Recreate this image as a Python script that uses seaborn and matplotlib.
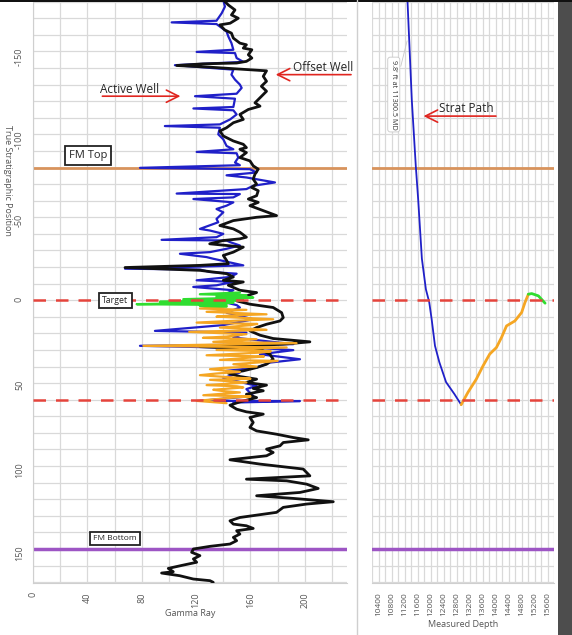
import numpy as np
import pandas as pd
import seaborn as sns
import matplotlib
matplotlib.use('Agg')
import matplotlib.pyplot as plt
from matplotlib.patches import Rectangle
from matplotlib.lines import Line2D

# ---- data: (gamma ray, true stratigraphic position) ----
offset_well = [
    (140, -181), (143.7, -178), (148.6, -175), (146, -172), (151, -170), (145, -167), (137.5, -166),
    (141, -163), (146, -161), (147.4, -158), (152.2, -155), (157, -154), (154.7, -152), (161, -151),
    (158.4, -148), (161, -146), (157, -144), (149.8, -143), (125, -142.5), (105.7, -141.5), (130, -140.5),
    (171.8, -138.3), (169.4, -135), (171.8, -132), (168, -129), (171.8, -126), (167, -122), (163.3, -119),
    (167, -117), (158.4, -115), (152.2, -112), (154.7, -109), (147.4, -107), (142.4, -104), (137.5, -102),
    (140, -99), (147.4, -96), (154.7, -94), (157, -92), (152.2, -91), (157, -89), (152.2, -86),
    (159.6, -84), (162, -81), (165.7, -79), (163.3, -76), (162, -73), (164.5, -70), (160.8, -68),
    (165.7, -66), (164.5, -63), (158.4, -61), (165.7, -59), (159.6, -57), (169.4, -54), (179.2, -51),
    (164.5, -50), (147.4, -48), (137.5, -45), (147.4, -43), (152.2, -41), (157, -38), (152.2, -37),
    (140, -36), (130, -34), (154.7, -32), (147.4, -29), (140, -27), (142.4, -24), (143.7, -22),
    (122.8, -21), (67.7, -19.7), (122.8, -18), (142.4, -16), (147.4, -14), (140, -12), (154.7, -11),
    (143.7, -9), (152.2, -6), (164.5, -4.6), (157, -2.6), (149.8, 0.4), (159.6, 2.4), (176.7, 4.4),
    (182.9, 7.5), (184.1, 10.5), (181.7, 12.5), (171.8, 14.5), (164.5, 16.5), (159.6, 18.5), (167, 21.1),
    (176.7, 23.1), (203.7, 25.1), (184.1, 26.5), (159.6, 27.5), (122.8, 28), (167, 29.5), (174.3, 32.6),
    (176.7, 35.6), (171.8, 38.6), (164.5, 40.6), (154.7, 42.6), (143.7, 44), (152.2, 46), (164.5, 47.6),
    (157, 49.6), (171.8, 51.2), (162, 53.2), (169.4, 54.6), (157, 56.7), (164.5, 58.7), (152.2, 61.3),
    (144.9, 63.3), (149.8, 65.7), (157, 67.3), (169.4, 68.7), (159.6, 70.7), (162, 73.7), (159.6, 76.7),
    (164.5, 78.8), (179.2, 80.8), (191.5, 82.8), (202.5, 84.2), (184.1, 85.8), (181.7, 87.8), (171.8, 89.8),
    (176.7, 91.8), (171.8, 93.8), (144.9, 96.2), (166.9, 98.8), (198.8, 101.8), (203.7, 105.9), (157, 107.9),
    (186.6, 108.9), (201.3, 110.9), (209.8, 113.5), (196.4, 115.9), (164.5, 117.9), (191.5, 119.5),
    (220.9, 121.5), (201.3, 122.9), (184.1, 124.9), (179.2, 127.9), (164.5, 129.6), (152.2, 131),
    (144.9, 133), (147.4, 135), (157, 136), (162, 137.6), (149.8, 139), (152.2, 141), (147.4, 143),
    (149.8, 145), (144.9, 147), (130.2, 148.4), (118, 150), (116.7, 152), (122.8, 154), (118, 156),
    (120.4, 158), (110.6, 159.7), (99.5, 161.7), (103.2, 163.7), (94.6, 164.5), (107.9, 166.1),
    (117.9, 168.1), (130.2, 169.1), (132.6, 170.1),
]

active_well = [
    (140, -181), (141.2, -177), (138.8, -173), (135, -168.5), (102, -167.5), (135, -166.5), (142.4, -162),
    (143.7, -159), (146, -155), (147.4, -151), (120.4, -149.7), (148.6, -149), (149.8, -146), (154.7, -143.7),
    (104.4, -141.7), (147.4, -139), (146, -136), (148.6, -133), (152.2, -130), (153.5, -128), (149.8, -124.5),
    (119.2, -123), (148.6, -121.5), (147.4, -116.5), (118, -115.6), (147.4, -114.5), (149.8, -112), (145, -109),
    (137.5, -106), (97, -105), (137.5, -104), (136.3, -100), (140, -97), (142.4, -93), (147.4, -91),
    (120.4, -89.4), (149.8, -88.6), (151, -86), (148.6, -83), (152.2, -81.4), (78.7, -79.8), (159.6, -79),
    (164.5, -77), (142.4, -75.3), (157, -74), (178, -71), (162, -69), (157, -67), (105.7, -64.3),
    (152.2, -64), (147.4, -62), (118, -61), (147.4, -59), (142.4, -57), (135, -55), (140, -53),
    (135, -49), (136.3, -47), (122.8, -43), (130.2, -42), (140, -40), (135, -38), (94.6, -36.4),
    (142.4, -36), (145, -35), (152.2, -33), (142.4, -31), (130.2, -29), (108.1, -28), (127.7, -26),
    (132.6, -25), (154.7, -21), (67.7, -19), (122.8, -18.5), (130.2, -17), (149.8, -16), (145, -14),
    (120.4, -12), (147.4, -11), (135, -9), (117.9, -8), (147.4, -6), (142.4, -4), (154.7, -3),
    (147.4, -1), (140, 1), (150, 3), (152.2, 4.4), (142.4, 7.5), (162, 11.5), (140, 15), (89.7, 18.5),
    (157, 19.5), (147.4, 22.5), (191.5, 26.5), (78.7, 27.5), (171.8, 29.1), (191.5, 30.1), (167, 32.6),
    (196.4, 35.6), (174.3, 37.6), (164.5, 40.6), (142.4, 42.6), (152.2, 43.6), (140, 47), (164.5, 51.6),
    (157, 53.6), (162, 57.7), (122.8, 60.7), (196.4, 60.8), (147.4, 61.7),
]

# active well coloured by zone
near_target = [
    (152.2, -4.6), (122.8, -3.6), (157, -3), (135, -2.2), (162, -1.6), (110.6, -0.6), (154.7, 0),
    (93.4, 1), (147.4, 1.4), (76.3, 2.4), (142.4, 2.8), (122.8, 3.4), (142.4, 3.8),
]
in_zone = [
    (142.4, 3.8), (122.8, 5), (157, 5.8), (127.7, 7), (171.8, 8.5), (145, 9.2), (135, 9.9), (176.7, 11.5),
    (150, 12.3), (120.4, 13.5), (165, 14.3), (159.6, 15.1), (137.5, 16.5), (160, 17.2), (171.8, 17.9),
    (114.9, 19.1), (157, 20.5), (142.4, 21.9), (125, 22.7), (164.5, 23.5), (132.6, 25.1), (193.9, 25.9),
    (81.2, 27.5), (186.6, 28.5), (135, 30), (175, 30.8), (167, 31.6), (127.7, 33.2), (170, 33.9),
    (159.6, 34.6), (137.5, 36), (180, 36.6), (171.8, 37.2), (147.4, 38.6), (164.5, 40), (140, 40.8),
    (130.2, 41.6), (152.2, 43.2), (135, 44.2), (122.8, 45.2), (147.4, 46.6), (160, 47.3), (130.2, 48),
    (157, 49.6), (127.7, 51.2), (150, 51.9), (154.7, 52.6), (132.6, 54), (140, 54.8), (152.2, 55.6),
    (125.3, 57.3), (160, 58), (147.4, 58.7), (120.4, 60.7), (142.4, 62.1),
]

# strat path: (measured depth, true stratigraphic position)
strat_blue = [
    (11291, -181), (11424, -121), (11548, -80.7), (11620, -61), (11735, -25), (11858, -6.6),
    (11961, 1.2), (12035, 11.4), (12138, 27.5), (12271, 37.3), (12479, 49.4), (12736, 56.6), (12944, 63),
]
strat_orange = [
    (12944, 63), (13151, 55.6), (13409, 47.6), (13616, 39.6), (13821, 32.5), (14029, 28.5), (14184, 22.5),
    (14339, 15.5), (14596, 12.5), (14804, 7.4), (14906, 1.4), (15011, -3.6),
]
strat_green = [(15011, -3.6), (15114, -4), (15321, -2.6), (15526, 1.8)]

fm_top = -80
fm_bottom = 150
target_top = 0
target_base = 60

BLACK = '#111111'
BLUE = '#2020c8'
ORANGE = '#f5a623'
GREEN = '#30dd30'
TOP_C = '#d8935c'
BOT_C = '#9d55c4'
RED = '#e5443c'
GRID = '#d9d9d9'

sns.set_style('white')
plt.rcParams['font.family'] = ['Open Sans', 'DejaVu Sans']

W, H = 572, 635
fig = plt.figure(figsize=(W / 100, H / 100), dpi=100)
ax = fig.add_axes([33 / W, 1 - 583 / H, (347 - 33) / W, 583 / H])
ax2 = fig.add_axes([372 / W, 1 - 583 / H, (554 - 372) / W, 583 / H])

gr_cols = ['gr', 'tsp']
md_cols = ['md', 'tsp']


def draw(a, rows, cols, color, lw, z):
    df = pd.DataFrame(rows, columns=cols)
    sns.lineplot(data=df, x=cols[0], y=cols[1], sort=False, estimator=None,
                 color=color, lw=lw, ax=a, zorder=z, legend=False)


draw(ax, active_well, gr_cols, BLUE, 1.6, 3)
draw(ax, offset_well, gr_cols, BLACK, 2.0, 4)
draw(ax, in_zone, gr_cols, ORANGE, 1.6, 5)
draw(ax, near_target, gr_cols, GREEN, 1.7, 5)

draw(ax2, strat_blue, md_cols, BLUE, 1.3, 3)
draw(ax2, strat_orange, md_cols, ORANGE, 2.0, 3)
draw(ax2, strat_green, md_cols, GREEN, 2.0, 3)

ytk = np.arange(-180, 171, 10)
for a in (ax, ax2):
    a.axhline(fm_top, color=TOP_C, lw=2, zorder=2)
    a.axhline(fm_bottom, color=BOT_C, lw=2.5, zorder=2)
    for v in (target_top, target_base):
        a.axhline(v, color=RED, lw=1.8, ls=(0, (5, 4)), zorder=6)
    a.set_ylim(170.5, -181)
    a.set_yticks(ytk)
    a.grid(True, color=GRID, lw=0.9, zorder=0)
    a.set_axisbelow(True)
    for s in a.spines.values():
        s.set_visible(False)
    a.spines['bottom'].set_visible(True)
    a.spines['bottom'].set_color('#cfcfcf')

# left panel axes
xtk = np.arange(0, 221, 20)
ax.set_xlim(0, 231)
ax.set_xticks(xtk)
ax.set_xticklabels([str(t) if t % 40 == 0 else '' for t in xtk])
ax.set_yticklabels([str(t) if t % 50 == 0 else '' for t in ytk])
ax.spines['left'].set_visible(True)
ax.spines['left'].set_color('#cfcfcf')
ax.tick_params(axis='both', labelsize=6.5, labelcolor='#555555', color='#cfcfcf', length=3, width=0.8)
ax.tick_params(axis='both', labelrotation=90)
ax.set_xlabel('Gamma Ray', fontsize=6.5, color='#555555')
ax.xaxis.set_label_coords(0.5, -0.045)
ax.set_ylabel('True Stratigraphic Position', fontsize=6.5, color='#555555', rotation=-90, va='center')
ax.yaxis.set_label_coords(-0.08, 0.69)

# right panel axes
mtk = np.arange(10200, 15801, 200)
ax2.set_xlim(10200, 15800)
ax2.set_xticks(mtk)
ax2.set_xticklabels([str(t) if (t - 10400) % 400 == 0 else '' for t in mtk])
ax2.tick_params(axis='x', labelsize=6, labelcolor='#555555', color='#cfcfcf', length=3, width=0.8,
                labelrotation=90)
ax2.tick_params(axis='y', left=False, labelleft=False)
ax2.set_xlabel('Measured Depth', fontsize=6.5, color='#555555')
ax2.xaxis.set_label_coords(0.5, -0.063)
ax2.set_ylabel('')

# marker boxes
box = dict(boxstyle='square,pad=0.35', fc='white', ec='#222222', lw=1.3)
ax.text(40.5, -87.3, 'FM Top', fontsize=8, ha='center', va='center', bbox=box, zorder=8)
ax.text(60.7, 0.3, 'Target', fontsize=6.3, ha='center', va='center', bbox=box, zorder=8)
ax.text(60.3, 143.8, 'FM Bottom', fontsize=6, ha='center', va='center', bbox=box, zorder=8)

# red call-outs
arrow = dict(arrowstyle='->', color='#e0251f', lw=1.2, mutation_scale=22)
ax.text(49.5, -127, 'Active Well', fontsize=8.5, ha='left', va='center', zorder=8)
ax.annotate('', xy=(110.5, -123), xytext=(49, -123), arrowprops=arrow, annotation_clip=False, zorder=8)
ax.text(191, -140.5, 'Offset Well', fontsize=8.5, ha='left', va='center', zorder=8, clip_on=False)
ax.annotate('', xy=(176.5, -136), xytext=(236, -136), arrowprops=arrow, annotation_clip=False, zorder=8)
ax2.text(12250, -115.5, 'Strat Path', fontsize=8.5, ha='left', va='center', zorder=8)
ax2.annotate('', xy=(11700, -111), xytext=(14100, -111), arrowprops=arrow, annotation_clip=False, zorder=8)

# tooltip on strat path
ax2.annotate("9.8' ft at 11300.5 MD", xy=(11300.5, -158), xytext=(10870, -124),
             rotation=-90, fontsize=5.2, color='#333333', ha='center', va='center',
             bbox=dict(boxstyle='round,pad=0.35', fc='white', ec='#c8c8c8', lw=0.6),
             arrowprops=dict(arrowstyle='-', color='#c8c8c8', lw=0.6), zorder=8)

# screenshot frame bits
fig.lines.append(Line2D([357 / W, 357 / W], [0, 1], transform=fig.transFigure, color='#cfcfcf', lw=1))
fig.patches.append(Rectangle((558 / W, 0), 14 / W, 1, transform=fig.transFigure, color='#4d4d4d', lw=0))
fig.patches.append(Rectangle((0, 1 - 2 / H), 1, 2 / H, transform=fig.transFigure, color='#111111', lw=0))

fig.savefig('out.png', dpi=100, facecolor='white')
